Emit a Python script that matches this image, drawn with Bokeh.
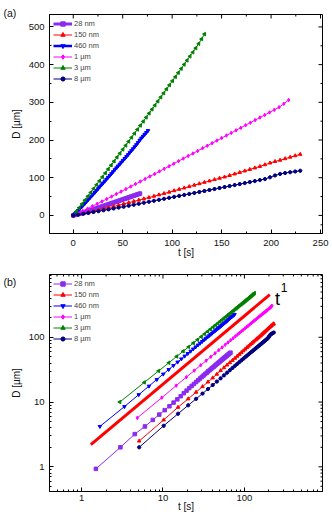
import numpy as np
from bokeh.plotting import figure
from bokeh.layouts import column
from bokeh.models import (Range1d, SingleIntervalTicker, LogTicker,
                          NumeralTickFormatter, Legend, LegendItem)
from bokeh.embed import file_html
from bokeh.resources import INLINE
from bokeh.core.properties import value

FONT = "Liberation Sans"

# ---------------- data ----------------
labels = ["28 nm", "150 nm", "460 nm", "1 \u00b5m", "3 \u00b5m", "8 \u00b5m"]
colors = ["#8B2BF0", "#FF0000", "#0000FF", "#FF00FF", "#008000", "#000080"]
markers = ["square", "triangle", "inverted_triangle", "diamond", "triangle", "hex"]
marker_angles = [0, 0, 0, 0, np.pi / 2, 0]

# frame interval (s) of each series, 45 frames each
frame_dt = [1.5, 5.1, 1.68, 4.84, 2.95, 5.1]
n_frames = 45

D_28nm = [0.93, 2.0, 3.2, 4.2, 5.3, 6.4, 7.5, 8.6, 9.8, 11.0, 12.3, 13.7, 15.0, 16.4, 17.7,
          19.0, 20.4, 21.7, 23.1, 24.4, 25.7, 27.1, 28.4, 29.8, 31.1, 32.4, 33.8, 35.1, 36.5,
          37.8, 39.1, 40.5, 41.8, 43.2, 44.5, 45.8, 47.2, 48.5, 49.9, 51.2, 52.5, 53.9, 55.2,
          56.6, 57.9]
D_150nm = [2.5, 5.3, 8.3, 11.2, 14.2, 17.3, 20.4, 23.6, 26.9, 30.6, 33.9, 37.3, 40.6, 44.0,
           47.4, 51.0, 54.5, 58.1, 61.7, 65.6, 69.2, 72.8, 76.5, 80.3, 84.1, 87.8, 91.4, 95.0,
           98.6, 102.0, 106.0, 110.0, 114.0, 118.0, 122.0, 126.0, 130.0, 134.5, 139.0, 143.0,
           146.5, 150.5, 154.5, 158.3, 162.0]
D_460nm = [4.2, 8.5, 13.0, 17.6, 22.3, 27.0, 31.8, 36.6, 41.4, 46.3, 51.2, 56.1, 61.0, 65.9,
           70.9, 75.9, 80.9, 85.9, 90.9, 95.9, 100.9, 105.9, 110.9, 115.9, 121.0, 126.0, 131.0,
           136.0, 141.0, 146.0, 151.0, 156.0, 161.2, 166.4, 171.6, 176.8, 182.0, 187.5, 193.5,
           199.5, 205.0, 210.0, 215.0, 220.0, 225.0]
D_1um = [5.7, 11.7, 17.9, 24.2, 30.6, 37.0, 43.5, 50.0, 56.6, 63.2, 69.8, 76.5, 83.2, 89.9,
         96.6, 103.3, 110.0, 116.8, 123.6, 130.4, 137.2, 144.0, 150.8, 157.6, 164.4, 171.2,
         178.0, 184.8, 191.6, 198.4, 205.2, 212.0, 218.8, 225.6, 232.4, 239.2, 246.0, 252.8,
         259.6, 266.4, 273.2, 280.0, 287.0, 296.0, 306.0]
D_3um = [10.0, 20.1, 30.2, 40.4, 50.6, 60.8, 71.0, 81.3, 91.6, 102.0, 112.4, 122.8, 133.2,
         143.6, 154.1, 164.6, 175.1, 185.6, 196.2, 206.8, 217.4, 228.0, 238.6, 249.3, 260.0,
         270.7, 281.4, 292.1, 302.8, 313.6, 324.4, 335.2, 346.0, 356.8, 367.6, 378.4, 389.3,
         400.2, 411.1, 422.0, 432.9, 443.8, 455.5, 468.0, 481.0]
D_8um = [2.0, 4.3, 6.6, 8.9, 11.2, 13.5, 15.9, 18.3, 20.7, 23.2, 25.8, 28.4, 31.0, 33.6, 36.2,
         38.8, 41.4, 44.0, 46.6, 49.2, 51.8, 54.4, 57.0, 59.6, 62.2, 64.8, 67.4, 70.0, 72.6,
         75.2, 77.8, 80.4, 83.0, 85.7, 88.4, 91.1, 93.8, 96.5, 101.0, 106.0, 110.0, 112.5,
         114.5, 116.5, 118.5]
D_series = [D_28nm, D_150nm, D_460nm, D_1um, D_3um, D_8um]

# t^1 guide line (log plot)
guide_t = [1.3, 205.0]
guide_D = [2.2, 455.0]

lw_a = [3, 1, 2.5, 1, 1, 1]
lw_b = [1, 1, 1, 1, 1, 1]

# axis ranges / ticks
xa_range = (-24, 252)
ya_range = (-48, 533)
xa_major = [0, 50, 100, 150, 200, 250]
xa_minor = [25, 75, 125, 175, 225]
ya_major = [0, 100, 200, 300, 400, 500]
ya_minor = [-25, 50, 150, 250, 350, 450]
xb_range = (0.404, 910)
yb_range = (0.416, 931)
log_major = [1, 10, 100]
log_minor = [m * d for d in (0.1, 1, 10, 100) for m in range(2, 10)]

W = 332
H1, H2 = 260, 254
BL, BR = 49, 10
BT1, BB1 = 14, 27
BT2, BB2 = 14, 23
FW = W - BL - BR
FH1 = H1 - BT1 - BB1
FH2 = H2 - BT2 - BB2


def style_axes(p):
    for ax in [p.below[0], p.left[0]]:
        ax.axis_line_color = "black"
        ax.major_tick_in = 4
        ax.major_tick_out = 0
        ax.minor_tick_in = 2
        ax.minor_tick_out = 0
        ax.major_tick_line_color = "black"
        ax.minor_tick_line_color = "black"
        ax.major_label_text_font = FONT
        ax.major_label_text_font_size = "9.5px"
        ax.major_label_text_color = "#111111"
        ax.axis_label_text_font = FONT
        ax.axis_label_text_font_size = "10px"
        ax.axis_label_text_font_style = "normal"
        ax.axis_label_text_color = "#111111"
    p.xgrid.visible = False
    p.ygrid.visible = False
    p.outline_line_color = "black"


def panel_title(p, text, standoff):
    p.title.text = text
    p.title.align = "left"
    p.title.offset = -BL + 3
    p.title.standoff = standoff
    p.title.text_font = FONT
    p.title.text_font_size = "10.5px"
    p.title.text_font_style = "normal"
    p.title.text_color = "#111111"


def mirror_ticks(p, xr, yr, fh, xmaj, xmin, ymaj, ymin, log=False):
    """Inward ticks on the top and right frame edges (Origin style)."""
    def inset(lo, hi, n_px, size):
        if log:
            f = (np.log10(hi) - np.log10(lo)) * n_px / size
            return hi / 10 ** f
        return hi - (hi - lo) * n_px / size
    for vals, ln in ((xmaj, 4), (xmin, 2)):
        vals = [v for v in vals if xr[0] < v < xr[1]]
        y1 = inset(yr[0], yr[1], ln, fh)
        p.segment(x0=vals, y0=[yr[1]] * len(vals), x1=vals, y1=[y1] * len(vals),
                  line_color="black", line_width=1)
    for vals, ln in ((ymaj, 4), (ymin, 2)):
        vals = [v for v in vals if yr[0] < v < yr[1]]
        x1 = inset(xr[0], xr[1], ln, FW)
        p.segment(x0=[xr[1]] * len(vals), y0=vals, x1=[x1] * len(vals), y1=vals,
                  line_color="black", line_width=1)


def make_legend(p, items):
    leg = Legend(items=items, location="top_left", margin=4, padding=5, spacing=0,
                 glyph_width=19, glyph_height=11, label_height=11, label_standoff=2,
                 label_text_font=FONT, label_text_font_size="7.5px",
                 background_fill_alpha=0, border_line_color=None)
    p.add_layout(leg)


# ---------------- (a) linear ----------------
p1 = figure(width=W, height=H1, output_backend="svg", toolbar_location=None,
            x_range=Range1d(*xa_range), y_range=Range1d(*ya_range),
            min_border_left=BL, min_border_right=BR, min_border_top=BT1,
            min_border_bottom=BB1)
style_axes(p1)
panel_title(p1, "(a)", -8)
p1.below[0].ticker = SingleIntervalTicker(interval=50, num_minor_ticks=2)
p1.left[0].ticker = SingleIntervalTicker(interval=100, num_minor_ticks=2)
p1.below[0].axis_label = "t [s]"
p1.left[0].axis_label = "D [\u00b5m]"
p1.below[0].major_label_standoff = 6
p1.below[0].axis_label_standoff = -2
p1.left[0].major_label_standoff = 5
p1.left[0].axis_label_standoff = 4
mirror_ticks(p1, xa_range, ya_range, FH1, xa_major, xa_minor, ya_major, ya_minor)

items_a = []
for lab, col, mk, ang, dt, D, lw in zip(labels, colors, markers, marker_angles, frame_dt,
                                        D_series, lw_a):
    t = [0.0] + [dt * (k + 1) for k in range(n_frames)]
    d = [0.0] + list(D)
    r1 = p1.line(t, d, line_color=col, line_width=lw)
    r2 = p1.scatter(t, d, marker=mk, angle=ang, size=3.5, fill_color=col, line_color=col)
    items_a.append(LegendItem(label=lab, renderers=[r1, r2]))
make_legend(p1, items_a)

# ---------------- (b) log-log ----------------
p2 = figure(width=W, height=H2, output_backend="svg", toolbar_location=None,
            x_axis_type="log", y_axis_type="log",
            x_range=Range1d(*xb_range), y_range=Range1d(*yb_range),
            min_border_left=BL, min_border_right=BR, min_border_top=BT2,
            min_border_bottom=BB2)
style_axes(p2)
panel_title(p2, "(b)", -26)
p2.below[0].ticker = LogTicker(num_minor_ticks=10)
p2.left[0].ticker = LogTicker(num_minor_ticks=10)
p2.below[0].formatter = NumeralTickFormatter(format="0")
p2.left[0].formatter = NumeralTickFormatter(format="0")
p2.below[0].axis_label = "t [s]"
p2.left[0].axis_label = "D [\u00b5m]"
p2.below[0].major_label_standoff = 3
p2.below[0].axis_label_standoff = -3
p2.left[0].major_label_standoff = 5
p2.left[0].axis_label_standoff = 4
mirror_ticks(p2, xb_range, yb_range, FH2, log_major, log_minor, log_major,
             log_minor, log=True)

p2.line(guide_t, guide_D, line_color="#FF0000", line_width=3)
items_b = []
for lab, col, mk, ang, dt, D, lw in zip(labels, colors, markers, marker_angles, frame_dt,
                                        D_series, lw_b):
    t = [dt * (k + 1) for k in range(n_frames)]
    r1 = p2.line(t, D, line_color=col, line_width=lw)
    r2 = p2.scatter(t, D, marker=mk, angle=ang, size=3.5, fill_color=col, line_color=col)
    items_b.append(LegendItem(label=lab, renderers=[r1, r2]))
make_legend(p2, items_b)
p2.text(x=[254.6], y=[391.5], text=["t"], text_font=value(FONT), text_font_size="18px",
        text_align="center", text_baseline="alphabetic", text_color="black")
p2.text(x=[280.0], y=[586.0], text=["1"], text_font=value(FONT), text_font_size="12px",
        text_align="left", text_baseline="alphabetic", text_color="black")

layout = column(p1, p2, spacing=0)
open("out.html", "w").write(file_html(layout, INLINE))
